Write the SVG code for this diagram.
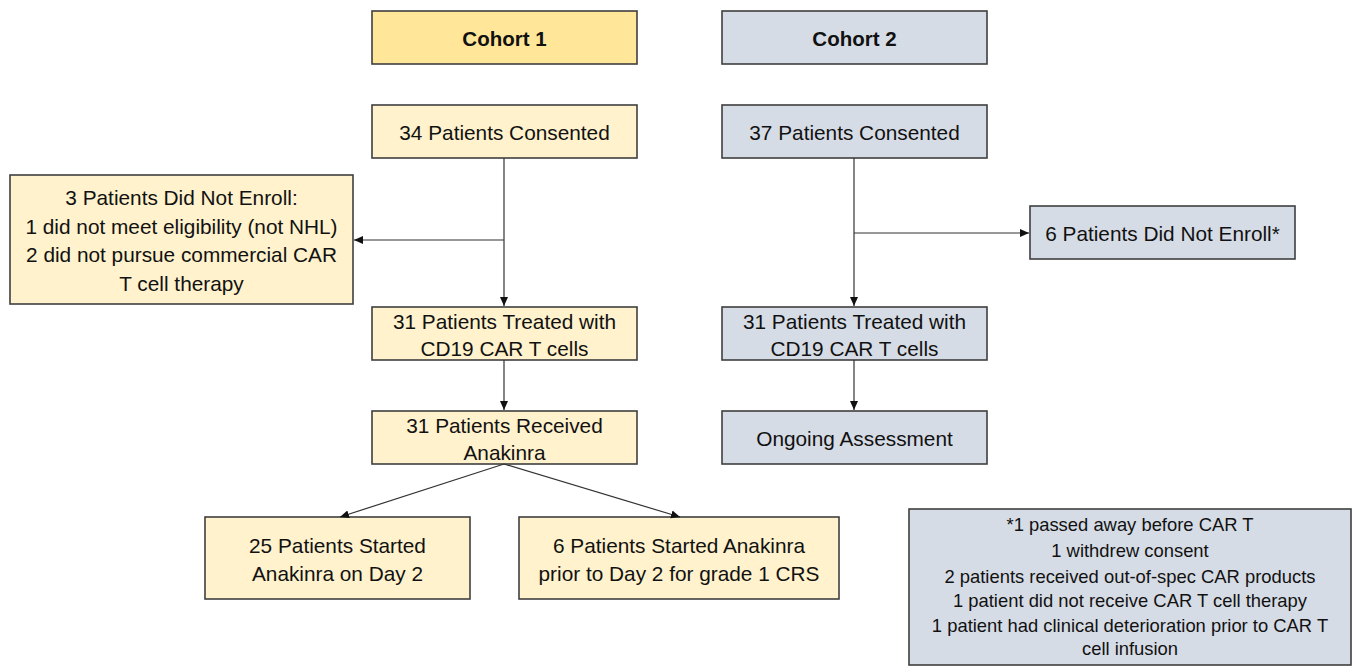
<svg xmlns="http://www.w3.org/2000/svg" width="1360" height="666" viewBox="0 0 1360 666">
<style>
  .box { stroke: #3f3f3f; stroke-width: 1.6; }
  .hdr { fill: #FFE699; }
  .c1 { fill: #FFF2CC; }
  .c2 { fill: #D6DCE5; }
  text { font-family: "Liberation Sans", Arial, sans-serif; font-size: 20.8px; fill: #111; text-anchor: middle; dominant-baseline: central; }
  .b { font-weight: bold; font-size: 20.5px; }
  .n { font-size: 18.4px; }
  .conn line { stroke: #333; stroke-width: 1.2; fill: none; }
</style>
<defs>
  <marker id="ah" markerUnits="userSpaceOnUse" markerWidth="10" markerHeight="10" viewBox="0 0 10 10" refX="9" refY="5" orient="auto">
    <path d="M0,1 L9,5 L0,9 Z" fill="#111"/>
  </marker>
</defs>
<rect width="1360" height="666" fill="#fff"/>

<g id="cohort1">
  <rect class="box hdr" x="372" y="11" width="265" height="53"/>
  <text class="b" x="504.5" y="38">Cohort 1</text>
</g>
<g id="cohort2">
  <rect class="box c2" x="722" y="11" width="265" height="53"/>
  <text class="b" x="854.5" y="38">Cohort 2</text>
</g>
<g id="consented1">
  <rect class="box c1" x="372" y="105" width="265" height="53"/>
  <text x="504.5" y="132">34 Patients Consented</text>
</g>
<g id="consented2">
  <rect class="box c2" x="722" y="105" width="265" height="53"/>
  <text x="854.5" y="132">37 Patients Consented</text>
</g>
<g id="notenroll1">
  <rect class="box c1" x="10" y="175" width="343" height="129"/>
  <text x="181.5" y="197">3 Patients Did Not Enroll:</text>
  <text x="181.5" y="226">1 did not meet eligibility (not NHL)</text>
  <text x="181.5" y="254">2 did not pursue commercial CAR</text>
  <text x="181.5" y="283">T cell therapy</text>
</g>
<g id="notenroll2">
  <rect class="box c2" x="1030" y="206" width="265" height="53"/>
  <text x="1162.5" y="233">6 Patients Did Not Enroll*</text>
</g>
<g id="treated1">
  <rect class="box c1" x="372" y="307" width="265" height="53"/>
  <text x="504.5" y="321">31 Patients Treated with</text>
  <text x="504.5" y="348">CD19 CAR T cells</text>
</g>
<g id="treated2">
  <rect class="box c2" x="722" y="307" width="265" height="53"/>
  <text x="854.5" y="321">31 Patients Treated with</text>
  <text x="854.5" y="348">CD19 CAR T cells</text>
</g>
<g id="anakinra">
  <rect class="box c1" x="372" y="411" width="265" height="53"/>
  <text x="504.5" y="425">31 Patients Received</text>
  <text x="504.5" y="452">Anakinra</text>
</g>
<g id="ongoing">
  <rect class="box c2" x="722" y="411" width="265" height="53"/>
  <text x="854.5" y="438">Ongoing Assessment</text>
</g>
<g id="day2">
  <rect class="box c1" x="205" y="517" width="265" height="82"/>
  <text x="337.5" y="545">25 Patients Started</text>
  <text x="337.5" y="573">Anakinra on Day 2</text>
</g>
<g id="prior">
  <rect class="box c1" x="519" y="517" width="320" height="82"/>
  <text x="679" y="545">6 Patients Started Anakinra</text>
  <text x="679" y="573">prior to Day 2 for grade 1 CRS</text>
</g>
<g id="note">
  <rect class="box c2" x="909" y="509" width="442" height="156"/>
  <text class="n" x="1130" y="524">*1 passed away before CAR T</text>
  <text class="n" x="1130" y="550">1 withdrew consent</text>
  <text class="n" x="1130" y="576">2 patients received out-of-spec CAR products</text>
  <text class="n" x="1130" y="600">1 patient did not receive CAR T cell therapy</text>
  <text class="n" x="1130" y="625">1 patient had clinical deterioration prior to CAR T</text>
  <text class="n" x="1130" y="648">cell infusion</text>
</g>

<g id="connectors" class="conn">
  <line x1="504" y1="158" x2="504" y2="306" marker-end="url(#ah)"/>
  <line x1="504" y1="240" x2="354" y2="240" marker-end="url(#ah)"/>
  <line x1="504" y1="360" x2="504" y2="410" marker-end="url(#ah)"/>
  <line x1="504" y1="464" x2="340" y2="517" marker-end="url(#ah)"/>
  <line x1="504" y1="464" x2="680" y2="517" marker-end="url(#ah)"/>
  <line x1="854" y1="158" x2="854" y2="306" marker-end="url(#ah)"/>
  <line x1="854" y1="233" x2="1029" y2="233" marker-end="url(#ah)"/>
  <line x1="854" y1="360" x2="854" y2="410" marker-end="url(#ah)"/>
</g>
</svg>
